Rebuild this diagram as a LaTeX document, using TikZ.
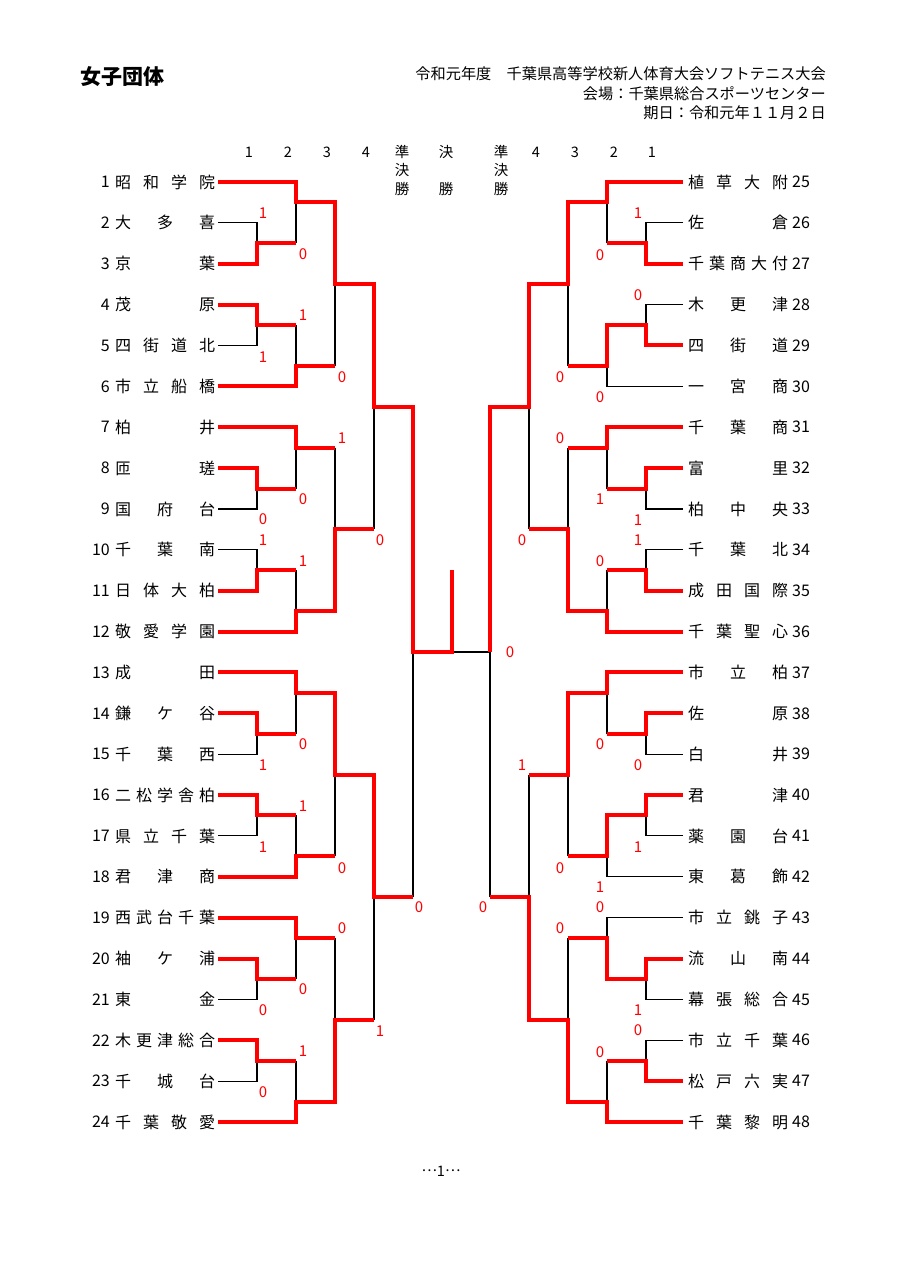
\documentclass[tikz,border=0pt]{standalone}
\usepackage{fontspec}
\setmainfont{Noto Sans CJK JP}
\newcommand\hf{\hfill}
\begin{document}
\begin{tikzpicture}[x=1pt,y=-1pt,
  win/.style={draw=red,line width=4pt,line join=miter},
  los/.style={draw=black,line width=1.1pt},
  tx/.style={inner sep=0pt,font=\fontsize{16}{16}\selectfont},
  sc/.style={inner sep=0pt,text=red,font=\fontsize{15}{15}\selectfont},
  hd/.style={inner sep=0pt,font=\fontsize{15.2}{15.2}\selectfont},
  rd/.style={inner sep=0pt,font=\fontsize{14.5}{14.5}\selectfont}]
\useasboundingbox[fill=white] (0,0) rectangle (905,1280);
% header
\node[inner sep=0pt,anchor=west,font=\fontsize{21}{21}\selectfont\bfseries] (title) at (80,77) {女子団体};
\node[hd,anchor=east] (h1) at (826,74) {令和元年度　千葉県高等学校新人体育大会ソフトテニス大会};
\node[hd,anchor=east] (h2) at (826,94) {会場：千葉県総合スポーツセンター};
\node[hd,anchor=east] (h3) at (826,113) {期日：令和元年１１月２日};
% round header
\foreach \x/\t [count=\i] in {249/1,288/2,327/3,366/4,536/4,575/3,614/2,652/1}
  \node[rd] (r\i) at (\x,152) {\t};
\node[rd] (sa1) at (402,152) {準};
\node[rd] (sa2) at (402,170.5) {決};
\node[rd] (sa3) at (402,189) {勝};
\node[rd] (fa1) at (446,152) {決};
\node[rd] (fa2) at (446,189) {勝};
\node[rd] (sb1) at (501,152) {準};
\node[rd] (sb2) at (501,170.5) {決};
\node[rd] (sb3) at (501,189) {勝};
\newcommand\LT[3]{\node[tx,anchor=east] (ln#1) at (110,#2) {#1};
  \node[tx,anchor=west] (lt#1) at (115,#2) {\makebox[100pt][l]{#3}};}
\newcommand\RT[3]{\node[tx,anchor=west] (rt#1) at (688,#2) {\makebox[100pt][l]{#3}};
  \node[tx,anchor=west] (rn#1) at (792,#2) {#1};}
\begin{scope}[yshift=-182pt,y=-20.435pt]
\LT{1}{0}{昭\hf 和\hf 学\hf 院}
\LT{2}{2}{大\hf 多\hf 喜}
\LT{3}{4}{京\hf 葉}
\LT{4}{6}{茂\hf 原}
\LT{5}{8}{四\hf 街\hf 道\hf 北}
\LT{6}{10}{市\hf 立\hf 船\hf 橋}
\LT{7}{12}{柏\hf 井}
\LT{8}{14}{匝\hf 瑳}
\LT{9}{16}{国\hf 府\hf 台}
\LT{10}{18}{千\hf 葉\hf 南}
\LT{11}{20}{日\hf 体\hf 大\hf 柏}
\LT{12}{22}{敬\hf 愛\hf 学\hf 園}
\LT{13}{24}{成\hf 田}
\LT{14}{26}{鎌\hf ケ\hf 谷}
\LT{15}{28}{千\hf 葉\hf 西}
\LT{16}{30}{二\hf 松\hf 学\hf 舎\hf 柏}
\LT{17}{32}{県\hf 立\hf 千\hf 葉}
\LT{18}{34}{君\hf 津\hf 商}
\LT{19}{36}{西\hf 武\hf 台\hf 千\hf 葉}
\LT{20}{38}{袖\hf ケ\hf 浦}
\LT{21}{40}{東\hf 金}
\LT{22}{42}{木\hf 更\hf 津\hf 総\hf 合}
\LT{23}{44}{千\hf 城\hf 台}
\LT{24}{46}{千\hf 葉\hf 敬\hf 愛}
\RT{25}{0}{植\hf 草\hf 大\hf 附}
\RT{26}{2}{佐\hf 倉}
\RT{27}{4}{千\hf 葉\hf 商\hf 大\hf 付}
\RT{28}{6}{木\hf 更\hf 津}
\RT{29}{8}{四\hf 街\hf 道}
\RT{30}{10}{一\hf 宮\hf 商}
\RT{31}{12}{千\hf 葉\hf 商}
\RT{32}{14}{富\hf 里}
\RT{33}{16}{柏\hf 中\hf 央}
\RT{34}{18}{千\hf 葉\hf 北}
\RT{35}{20}{成\hf 田\hf 国\hf 際}
\RT{36}{22}{千\hf 葉\hf 聖\hf 心}
\RT{37}{24}{市\hf 立\hf 柏}
\RT{38}{26}{佐\hf 原}
\RT{39}{28}{白\hf 井}
\RT{40}{30}{君\hf 津}
\RT{41}{32}{薬\hf 園\hf 台}
\RT{42}{34}{東\hf 葛\hf 飾}
\RT{43}{36}{市\hf 立\hf 銚\hf 子}
\RT{44}{38}{流\hf 山\hf 南}
\RT{45}{40}{幕\hf 張\hf 総\hf 合}
\RT{46}{42}{市\hf 立\hf 千\hf 葉}
\RT{47}{44}{松\hf 戸\hf 六\hf 実}
\RT{48}{46}{千\hf 葉\hf 黎\hf 明}
% ---------- black (losing) lines, left ----------
\draw[los] (296,1)--(296,3) (335,5)--(335,9) (374,11)--(374,17) (413,23)--(413,35);
\draw[los] (218,2)--(257,2)--(257,3);
\draw[los] (218,8)--(257,8)--(257,7) (296,7)--(296,9);
\draw[los] (296,13)--(296,15) (218,16)--(257,16)--(257,15);
\draw[los] (218,18)--(257,18)--(257,19) (296,19)--(296,21) (335,13)--(335,17);
\draw[los] (296,25)--(296,27) (335,29)--(335,33) (374,35)--(374,41);
\draw[los] (218,28)--(257,28)--(257,27) (218,32)--(257,32)--(257,31) (296,31)--(296,33);
\draw[los] (296,37)--(296,39) (218,40)--(257,40)--(257,39);
\draw[los] (218,44)--(257,44)--(257,43) (296,43)--(296,45) (335,37)--(335,41);
\draw[los] (452,23)--(490,23);
% ---------- black lines, right ----------
\draw[los] (607,1)--(607,3) (568,5)--(568,9) (529,11)--(529,17) (490,23)--(490,35);
\draw[los] (683,2)--(646,2)--(646,3) (683,6)--(646,6)--(646,7) (683,10)--(607,10)--(607,9);
\draw[los] (607,13)--(607,15) (683,16)--(646,16)--(646,15);
\draw[los] (683,18)--(646,18)--(646,19) (607,19)--(607,21) (568,13)--(568,17);
\draw[los] (607,25)--(607,27) (568,29)--(568,33) (529,29)--(529,35);
\draw[los] (683,28)--(646,28)--(646,27) (683,32)--(646,32)--(646,31) (683,34)--(607,34)--(607,33);
\draw[los] (683,36)--(607,36)--(607,37) (683,40)--(646,40)--(646,39);
\draw[los] (683,42)--(646,42)--(646,43) (607,43)--(607,45) (568,37)--(568,41);
% ---------- red (winning) lines, left ----------
\draw[win] (218,0)--(296,0)--(296,1)--(335,1)--(335,5)--(374,5)--(374,11)--(413,11)--(413,23)--(452,23)--(452,19);
\draw[win] (218,4)--(257,4)--(257,3)--(296,3);
\draw[win] (218,6)--(257,6)--(257,7)--(296,7);
\draw[win] (218,10)--(296,10)--(296,9)--(335,9);
\draw[win] (218,12)--(296,12)--(296,13)--(335,13);
\draw[win] (218,14)--(257,14)--(257,15)--(296,15);
\draw[win] (218,20)--(257,20)--(257,19)--(296,19);
\draw[win] (218,22)--(296,22)--(296,21)--(335,21)--(335,17)--(374,17);
\draw[win] (218,24)--(296,24)--(296,25)--(335,25)--(335,29)--(374,29)--(374,35)--(413,35);
\draw[win] (218,26)--(257,26)--(257,27)--(296,27);
\draw[win] (218,30)--(257,30)--(257,31)--(296,31);
\draw[win] (218,34)--(296,34)--(296,33)--(335,33);
\draw[win] (218,36)--(296,36)--(296,37)--(335,37);
\draw[win] (218,38)--(257,38)--(257,39)--(296,39);
\draw[win] (218,42)--(257,42)--(257,43)--(296,43);
\draw[win] (218,46)--(296,46)--(296,45)--(335,45)--(335,41)--(374,41);
% ---------- red lines, right ----------
\draw[win] (683,0)--(607,0)--(607,1)--(568,1)--(568,5)--(529,5)--(529,11)--(490,11)--(490,23);
\draw[win] (683,4)--(646,4)--(646,3)--(607,3);
\draw[win] (683,8)--(646,8)--(646,7)--(607,7)--(607,9)--(568,9);
\draw[win] (683,12)--(607,12)--(607,13)--(568,13);
\draw[win] (683,14)--(646,14)--(646,15)--(607,15);
\draw[win] (683,20)--(646,20)--(646,19)--(607,19);
\draw[win] (683,22)--(607,22)--(607,21)--(568,21)--(568,17)--(529,17);
\draw[win] (683,24)--(607,24)--(607,25)--(568,25)--(568,29)--(529,29);
\draw[win] (683,26)--(646,26)--(646,27)--(607,27);
\draw[win] (683,30)--(646,30)--(646,31)--(607,31)--(607,33)--(568,33);
\draw[win] (683,38)--(646,38)--(646,39)--(607,39)--(607,37)--(568,37);
\draw[win] (683,44)--(646,44)--(646,43)--(607,43);
\draw[win] (683,46)--(607,46)--(607,45)--(568,45)--(568,41)--(529,41)--(529,35)--(490,35);
\end{scope}
% score labels
\foreach \x/\y/\t [count=\i] in {
  263/213/1, 303/254/0, 303/315/1, 263/357/1, 342/377/0,
  342/438/1, 303/499/0, 263/519/0, 263/540/1, 303/561/1, 380/540/0,
  303/744/0, 263/765/1, 303/806/1, 263/847/1, 342/868/0,
  419/907/0, 342/928/0, 303/989/0, 263/1010/0, 380/1031/1, 303/1051/1, 263/1092/0,
  510/652/0, 522/540/0, 522/765/1, 483/907/0,
  638/213/1, 600/255/0, 638/295/0, 560/377/0, 600/397/0,
  560/438/0, 600/499/1, 638/520/1, 638/540/1, 600/561/0,
  600/744/0, 638/765/0, 638/847/1, 560/868/0, 600/887/1,
  600/907/0, 560/928/0, 638/1010/1, 638/1030/0, 600/1052/0}
  \node[sc] (s\i) at (\x,\y) {\t};
% footer
\node[rd] (foot) at (441,1171) {\raisebox{0.3em}{…}1\raisebox{0.3em}{…}};
\end{tikzpicture}
\end{document}
